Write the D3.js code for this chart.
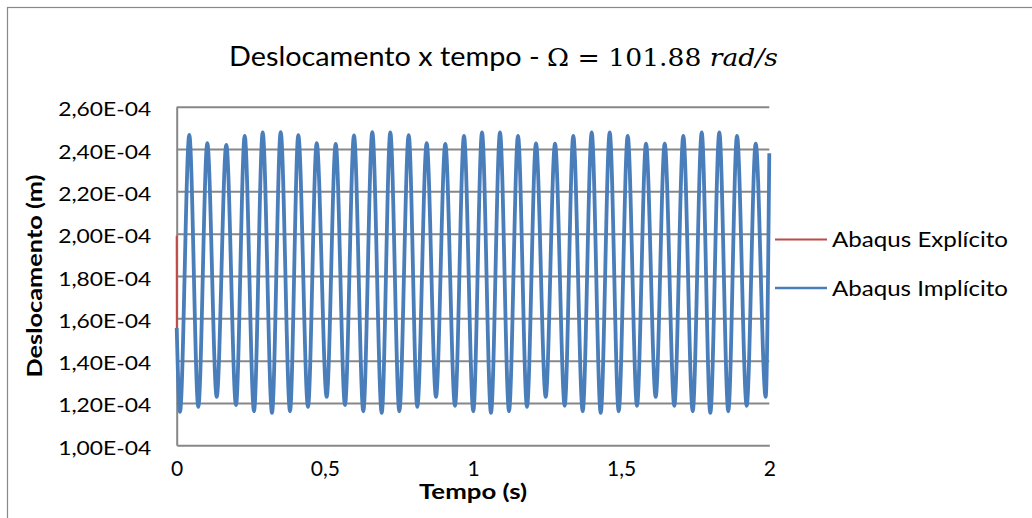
<!DOCTYPE html>
<html><head><meta charset="utf-8">
<script src="https://cdn.jsdelivr.net/npm/d3@7"></script>
<style>html,body{margin:0;padding:0;background:#fff;} svg{display:block;}</style>
</head><body><svg id="c" width="1032" height="518"></svg>
<script>
const times = [
  0, 0.0111, 0.0425, 0.0729, 0.1033, 0.1350, 0.1674, 0.2001, 0.2295, 0.2609,
  0.2902, 0.3216, 0.3510, 0.3824, 0.4104, 0.4431, 0.4725, 0.5062, 0.5366, 0.5680,
  0.5984, 0.6298, 0.6601, 0.6919, 0.7209, 0.7513, 0.7830, 0.8120, 0.8437, 0.8751,
  0.9065, 0.9392, 0.9696, 1.0010, 1.0304, 1.0607, 1.0911, 1.1215, 1.1519, 1.1822,
  1.2126, 1.2454, 1.2768, 1.3095, 1.3385, 1.3702, 1.4006, 1.4310, 1.4614, 1.4917,
  1.5221, 1.5535, 1.5839, 1.6166, 1.6470, 1.6794, 1.7098, 1.7415, 1.7719, 1.8009,
  1.8313, 1.8616, 1.8910, 1.9237, 1.9541, 1.9878, 2.0000
];
const implicitValues = [
  1.554e-4, 1.158e-4, 2.467e-4, 1.182e-4, 2.428e-4, 1.229e-4, 2.420e-4, 1.190e-4, 2.462e-4, 1.161e-4,
  2.478e-4, 1.153e-4, 2.480e-4, 1.161e-4, 2.466e-4, 1.182e-4, 2.428e-4, 1.229e-4, 2.424e-4, 1.190e-4,
  2.464e-4, 1.161e-4, 2.480e-4, 1.153e-4, 2.478e-4, 1.161e-4, 2.466e-4, 1.182e-4, 2.428e-4, 1.229e-4,
  2.424e-4, 1.187e-4, 2.462e-4, 1.161e-4, 2.478e-4, 1.153e-4, 2.478e-4, 1.161e-4, 2.462e-4, 1.182e-4,
  2.427e-4, 1.229e-4, 2.425e-4, 1.187e-4, 2.462e-4, 1.161e-4, 2.478e-4, 1.153e-4, 2.478e-4, 1.161e-4,
  2.462e-4, 1.187e-4, 2.425e-4, 1.229e-4, 2.425e-4, 1.187e-4, 2.462e-4, 1.161e-4, 2.478e-4, 1.153e-4,
  2.478e-4, 1.161e-4, 2.462e-4, 1.187e-4, 2.425e-4, 1.229e-4, 2.380e-4
];
const explicitTimes = [0].concat([0.0004], times.slice(1));
const explicitValues = [
  1.990e-4, 1.556e-4,
  1.235e-4, 2.405e-4, 1.242e-4, 2.395e-4, 1.256e-4, 2.392e-4, 1.245e-4, 2.403e-4, 1.236e-4,
  2.408e-4, 1.234e-4, 2.409e-4, 1.236e-4, 2.405e-4, 1.242e-4, 2.395e-4, 1.256e-4, 2.394e-4, 1.245e-4,
  2.404e-4, 1.236e-4, 2.409e-4, 1.234e-4, 2.408e-4, 1.236e-4, 2.405e-4, 1.242e-4, 2.395e-4, 1.256e-4,
  2.394e-4, 1.244e-4, 2.403e-4, 1.236e-4, 2.408e-4, 1.234e-4, 2.408e-4, 1.236e-4, 2.403e-4, 1.242e-4,
  2.395e-4, 1.256e-4, 2.394e-4, 1.244e-4, 2.403e-4, 1.236e-4, 2.408e-4, 1.234e-4, 2.408e-4, 1.236e-4,
  2.403e-4, 1.244e-4, 2.394e-4, 1.256e-4, 2.394e-4, 1.244e-4, 2.403e-4, 1.236e-4, 2.408e-4, 1.234e-4,
  2.408e-4, 1.236e-4, 2.403e-4, 1.244e-4, 2.394e-4, 1.256e-4, 2.370e-4
];
const yTicks = [1.0e-4, 1.2e-4, 1.4e-4, 1.6e-4, 1.8e-4, 2.0e-4, 2.2e-4, 2.4e-4, 2.6e-4];
const yTickLabels = ["1,00E-04","1,20E-04","1,40E-04","1,60E-04","1,80E-04","2,00E-04","2,20E-04","2,40E-04","2,60E-04"];
const xTicks = [0, 0.5, 1, 1.5, 2];
const xTickLabels = ["0", "0,5", "1", "1,5", "2"];
const seriesNames = ["Abaqus Explícito", "Abaqus Implícito"];
const seriesColors = ["#be4b48", "#4a7ebb"];

// ---- layout ----
const svg = d3.select("#c");
const FONT = "Lato, 'Open Sans', sans-serif";
const MATH = "'DejaVu Serif', 'Liberation Serif', serif";
const pL = 176.7, pR = 769.3, pT = 106.7, pB = 445.3;
const x = d3.scaleLinear().domain([0, 2]).range([pL, pR]);
const y = d3.scaleLinear().domain([1.0e-4, 2.6e-4]).range([pB, pT]);
const GRID = "#878787";

// outer chart border
svg.append("rect").attr("x", 7.5).attr("y", 7.5).attr("width", 1040).attr("height", 540)
  .attr("fill", "none").attr("stroke", GRID).attr("stroke-width", 1.2);

// gridlines
const grid = svg.append("g").attr("transform", `translate(${pL},0)`)
  .call(d3.axisLeft(y).tickValues(yTicks.slice(1)).tickSize(-(pR - pL)).tickFormat(""));
grid.select(".domain").remove();
grid.selectAll("line").attr("stroke", GRID).attr("stroke-width", 2);

// y axis
const ya = svg.append("g").attr("transform", `translate(${pL},0)`)
  .call(d3.axisLeft(y).tickValues(yTicks).tickSize(0).tickPadding(25.5)
    .tickFormat((d, i) => yTickLabels[i]));
ya.select(".domain").attr("stroke", GRID).attr("stroke-width", 2);
ya.selectAll("text").attr("font-family", FONT).attr("font-size", 20).attr("fill", "#000")
  .attr("dy", "0.45em").attr("textLength", 93).attr("lengthAdjust", "spacingAndGlyphs");

// x axis
const xa = svg.append("g").attr("transform", `translate(0,${pB})`)
  .call(d3.axisBottom(x).tickValues(xTicks).tickSize(0).tickPadding(16)
    .tickFormat((d, i) => xTickLabels[i]));
xa.select(".domain").attr("stroke", GRID).attr("stroke-width", 2);
xa.selectAll("text").attr("font-family", FONT).attr("font-size", 21).attr("fill", "#000");

// lines
const line = d3.line().x(d => x(d[0])).y(d => y(d[1])).curve(d3.curveMonotoneX);
const explicitData = explicitTimes.map((t, i) => [t, explicitValues[i]]);
const implicitData = times.map((t, i) => [t, implicitValues[i]]);
svg.append("path").datum(explicitData).attr("d", line).attr("fill", "none")
  .attr("stroke", seriesColors[0]).attr("stroke-width", 2);
svg.append("path").datum(implicitData).attr("d", line).attr("fill", "none")
  .attr("stroke", seriesColors[1]).attr("stroke-width", 3.8).attr("stroke-linejoin", "round");

// title
const title = svg.append("text").attr("x", 229).attr("y", 66).attr("text-anchor", "start")
  .attr("font-size", 26).attr("fill", "#000")
  .attr("textLength", 549).attr("lengthAdjust", "spacingAndGlyphs");
title.append("tspan").attr("font-family", FONT).text("Deslocamento x tempo - ");
title.append("tspan").attr("font-family", MATH).attr("font-size", 24).text("Ω = 101.88 ");
title.append("tspan").attr("font-family", MATH).attr("font-size", 24)
  .attr("font-style", "italic").text("rad/s");

// axis titles
svg.append("text").attr("transform", `translate(42,${(pT + pB) / 2}) rotate(-90)`)
  .attr("text-anchor", "middle").attr("font-family", FONT).attr("font-weight", "bold")
  .attr("font-size", 21).attr("fill", "#000")
  .attr("textLength", 203).attr("lengthAdjust", "spacingAndGlyphs").text("Deslocamento (m)");
svg.append("text").attr("x", 473).attr("y", 499).attr("text-anchor", "middle")
  .attr("font-family", FONT).attr("font-weight", "bold").attr("font-size", 21)
  .attr("fill", "#000").attr("textLength", 108).attr("lengthAdjust", "spacingAndGlyphs")
  .text("Tempo (s)");

// legend
const legY = [239.5, 288];
seriesNames.forEach((name, i) => {
  const g = svg.append("g");
  g.append("line").attr("x1", 775).attr("x2", 827).attr("y1", legY[i]).attr("y2", legY[i])
    .attr("stroke", seriesColors[i]).attr("stroke-width", i === 0 ? 2 : 2.5);
  g.append("text").attr("x", 832).attr("y", legY[i]).attr("dy", "0.36em")
    .attr("font-family", FONT).attr("font-size", 21).attr("fill", "#000")
    .attr("textLength", 176).attr("lengthAdjust", "spacingAndGlyphs").text(name);
});
</script></body></html>
